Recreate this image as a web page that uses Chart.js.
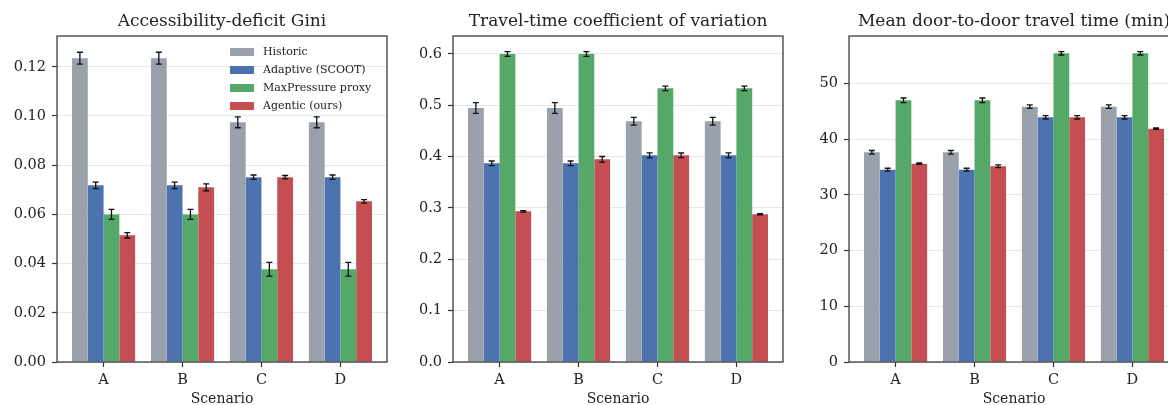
<!DOCTYPE html>
<html lang="en">
<head>
    <meta charset="UTF-8">
    <title>Scenario comparison</title>
    <script src="https://cdn.jsdelivr.net/npm/chart.js"></script>
    <style>
        html, body {
            margin: 0;
            padding: 0;
            background: #ffffff;
            overflow: hidden;
            width: 1168px;
            height: 405px;
        }

        .panel {
            position: absolute;
            top: 0;
            width: 396px;
            height: 405px;
        }
    </style>
</head>
<body>
    <div class="panel" style="left: 0px;"><canvas id="gini-chart" width="396" height="405"></canvas></div>
    <div class="panel" style="left: 396px;"><canvas id="cv-chart" width="396" height="405"></canvas></div>
    <div class="panel" style="left: 792px;"><canvas id="time-chart" width="396" height="405"></canvas></div>
    <script>
        // scenarios and methods
        const scenarios = ['A', 'B', 'C', 'D'];
        const methods = ['Historic', 'Adaptive (SCOOT)', 'MaxPressure proxy', 'Agentic (ours)'];
        const colors = ['#9aa1ac', '#4c72b0', '#55a868', '#c44e52'];

        // Accessibility-deficit Gini
        const giniHistoric = [0.1235, 0.1235, 0.0974, 0.0974];
        const giniAdaptive = [0.0718, 0.0718, 0.0751, 0.0751];
        const giniMaxPressure = [0.0600, 0.0600, 0.0377, 0.0377];
        const giniAgentic = [0.0515, 0.0710, 0.0751, 0.0653];
        const giniHistoricErr = [0.0024, 0.0024, 0.0022, 0.0022];
        const giniAdaptiveErr = [0.0013, 0.0013, 0.0009, 0.0009];
        const giniMaxPressureErr = [0.0020, 0.0020, 0.0028, 0.0028];
        const giniAgenticErr = [0.0011, 0.0014, 0.0007, 0.0007];
        const giniTicks = [0, 0.02, 0.04, 0.06, 0.08, 0.10, 0.12];

        // Travel-time coefficient of variation
        const cvHistoric = [0.4948, 0.4948, 0.4690, 0.4690];
        const cvAdaptive = [0.3870, 0.3870, 0.4026, 0.4026];
        const cvMaxPressure = [0.6000, 0.6000, 0.5330, 0.5330];
        const cvAgentic = [0.2935, 0.3948, 0.4026, 0.2877];
        const cvHistoricErr = [0.0104, 0.0104, 0.0075, 0.0075];
        const cvAdaptiveErr = [0.0045, 0.0045, 0.0049, 0.0049];
        const cvMaxPressureErr = [0.0045, 0.0045, 0.0045, 0.0045];
        const cvAgenticErr = [0.0015, 0.0055, 0.0045, 0.0012];
        const cvTicks = [0, 0.1, 0.2, 0.3, 0.4, 0.5, 0.6];

        // Mean door-to-door travel time (min)
        const timeHistoric = [37.66, 37.66, 45.87, 45.87];
        const timeAdaptive = [34.55, 34.55, 43.95, 43.95];
        const timeMaxPressure = [47.0, 47.0, 55.45, 55.45];
        const timeAgentic = [35.63, 35.15, 43.95, 41.91];
        const timeHistoricErr = [0.33, 0.33, 0.30, 0.30];
        const timeAdaptiveErr = [0.25, 0.25, 0.30, 0.30];
        const timeMaxPressureErr = [0.42, 0.42, 0.30, 0.30];
        const timeAgenticErr = [0.12, 0.25, 0.30, 0.12];
        const timeTicks = [0, 10, 20, 30, 40, 50];

        const FONT = 'DejaVu Serif';
        const INK = '#222222';
        const SPINE = '#333333';

        const errorBarPlugin = {
            id: 'errorBars',
            afterDatasetsDraw(chart) {
                const ctx = chart.ctx;
                const y = chart.scales.y;
                ctx.save();
                ctx.strokeStyle = '#111111';
                ctx.lineWidth = 1.3;
                chart.data.datasets.forEach((ds, di) => {
                    const meta = chart.getDatasetMeta(di);
                    meta.data.forEach((bar, i) => {
                        const v = ds.data[i].y;
                        const e = ds.errors[i];
                        const top = y.getPixelForValue(v + e);
                        const bottom = y.getPixelForValue(v - e);
                        ctx.beginPath();
                        ctx.moveTo(bar.x, top);
                        ctx.lineTo(bar.x, bottom);
                        ctx.moveTo(bar.x - 3, top);
                        ctx.lineTo(bar.x + 3, top);
                        ctx.moveTo(bar.x - 3, bottom);
                        ctx.lineTo(bar.x + 3, bottom);
                        ctx.stroke();
                    });
                });
                ctx.restore();
            }
        };

        const framePlugin = {
            id: 'frame',
            afterDraw(chart) {
                const a = chart.chartArea;
                const ctx = chart.ctx;
                ctx.save();
                ctx.strokeStyle = SPINE;
                ctx.lineWidth = 1.25;
                ctx.strokeRect(a.left, a.top, a.right - a.left, a.bottom - a.top);
                ctx.restore();
            }
        };

        const insideLegendPlugin = {
            id: 'insideLegend',
            afterDraw(chart, args, opts) {
                if (!opts.show) return;
                const a = chart.chartArea;
                const ctx = chart.ctx;
                ctx.save();
                ctx.font = '11px "' + FONT + '"';
                ctx.textBaseline = 'middle';
                chart.data.datasets.forEach((ds, i) => {
                    const cy = a.top + 16 + i * 18;
                    ctx.fillStyle = ds.backgroundColor;
                    ctx.fillRect(a.left + 173, cy - 4, 24, 8);
                    ctx.fillStyle = INK;
                    ctx.fillText(ds.label, a.left + 206, cy);
                });
                ctx.restore();
            }
        };

        function makeChart(id, title, series, errors, yMax, yTicks, decimals, showLegend) {
            const datasets = methods.map((m, k) => ({
                label: m,
                data: scenarios.map((s, i) => ({ x: i, y: series[k][i] })),
                errors: errors[k],
                backgroundColor: colors[k],
                borderWidth: 0,
                categoryPercentage: 0.8,
                barPercentage: 1.0
            }));

            return new Chart(document.getElementById(id), {
                type: 'bar',
                data: { datasets: datasets },
                plugins: [errorBarPlugin, framePlugin, insideLegendPlugin],
                options: {
                    responsive: false,
                    animation: false,
                    layout: { padding: { left: 0, right: 9, top: 0, bottom: 0 } },
                    plugins: {
                        legend: { display: false },
                        tooltip: { enabled: false },
                        insideLegend: { show: showLegend },
                        title: {
                            display: true,
                            text: title,
                            fullSize: false,
                            color: INK,
                            font: { family: FONT, size: 17, weight: 'normal', lineHeight: 1.2 },
                            padding: { top: 11.3, bottom: 4.3 }
                        }
                    },
                    scales: {
                        x: {
                            type: 'linear',
                            min: -0.59,
                            max: 3.59,
                            offset: false,
                            afterFit(scale) { scale.height = 43; },
                            afterBuildTicks(scale) {
                                scale.ticks = scenarios.map((s, i) => ({ value: i }));
                            },
                            grid: {
                                offset: false,
                                drawOnChartArea: false,
                                tickColor: SPINE,
                                tickLength: 5,
                                tickWidth: 1.2
                            },
                            border: { display: false },
                            ticks: {
                                color: INK,
                                padding: 5,
                                maxRotation: 0,
                                font: { family: FONT, size: 14.5 },
                                callback: (v) => scenarios[v]
                            },
                            title: {
                                display: true,
                                text: 'Scenario',
                                color: INK,
                                font: { family: FONT, size: 14, lineHeight: '11px' },
                                padding: 0
                            }
                        },
                        y: {
                            min: 0,
                            max: yMax,
                            z: 1,
                            afterFit(scale) { scale.width = 57; },
                            afterBuildTicks(scale) {
                                scale.ticks = yTicks.map(v => ({ value: v }));
                            },
                            grid: {
                                color: 'rgba(176,176,176,0.3)',
                                lineWidth: 1,
                                tickColor: SPINE,
                                tickLength: 5,
                                tickWidth: 1.2
                            },
                            border: { display: false },
                            ticks: {
                                color: INK,
                                padding: 6,
                                font: { family: FONT, size: 14.5 },
                                callback: (v) => Number(v).toFixed(decimals)
                            }
                        }
                    }
                }
            });
        }

        makeChart('gini-chart', 'Accessibility-deficit Gini',
            [giniHistoric, giniAdaptive, giniMaxPressure, giniAgentic],
            [giniHistoricErr, giniAdaptiveErr, giniMaxPressureErr, giniAgenticErr],
            0.1325, giniTicks, 2, true);

        makeChart('cv-chart', 'Travel-time coefficient of variation',
            [cvHistoric, cvAdaptive, cvMaxPressure, cvAgentic],
            [cvHistoricErr, cvAdaptiveErr, cvMaxPressureErr, cvAgenticErr],
            0.635, cvTicks, 1, false);

        makeChart('time-chart', 'Mean door-to-door travel time (min)',
            [timeHistoric, timeAdaptive, timeMaxPressure, timeAgentic],
            [timeHistoricErr, timeAdaptiveErr, timeMaxPressureErr, timeAgenticErr],
            58.56, timeTicks, 0, false);
    </script>
</body>
</html>
